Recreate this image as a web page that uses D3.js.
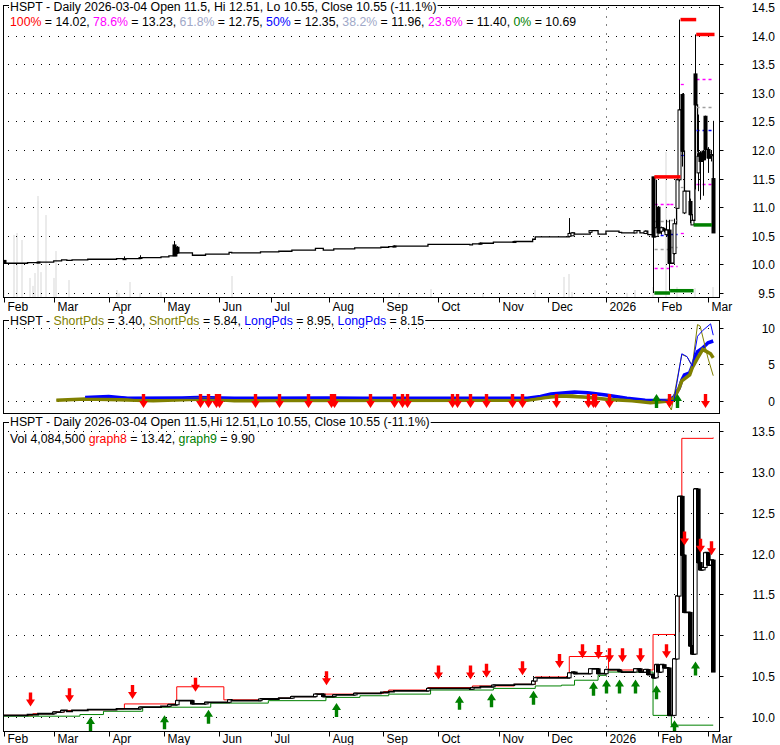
<!DOCTYPE html>
<html><head><meta charset="utf-8">
<script src="https://cdn.jsdelivr.net/npm/d3@7"></script>
<style>
body{margin:0;background:#fff}
svg{display:block}
text{font-family:"Liberation Sans",Arial,sans-serif;font-size:12px}
.ttl{font-size:12.3px}
</style>
</head><body>
<svg id="c" width="780" height="745"></svg>
<script>
// ---------------- DATA ----------------
// market holidays (trading-day axis)
const holidays = ["2025-02-17","2025-04-18","2025-05-26","2025-06-19","2025-07-04","2025-09-01","2025-11-27","2025-12-25","2026-01-01","2026-01-19","2026-02-16"];

// flat-period closes (change points of the step line)
const flatDates = ["2025-02-14","2025-02-27","2025-03-03","2025-03-06","2025-03-10","2025-03-12","2025-03-20","2025-04-04","2025-04-30","2025-05-05","2025-05-16","2025-05-23","2025-06-06","2025-06-09","2025-06-25","2025-07-07","2025-07-14","2025-07-25","2025-07-30","2025-08-05","2025-08-15","2025-08-29","2025-09-04","2025-09-25","2025-10-17","2025-10-20","2025-10-30","2025-11-20","2025-11-21","2025-12-08","2025-12-15","2025-12-18","2025-12-29","2026-01-02","2026-01-09","2026-01-12","2026-01-22","2026-01-27"];
const flatClose = [10.03,10.04,10.06,10.08,10.07,10.08,10.09,10.10,10.13,10.15,10.16,10.18,10.21,10.20,10.22,10.23,10.25,10.28,10.25,10.27,10.29,10.30,10.31,10.35,10.34,10.36,10.39,10.44,10.48,10.48,10.53,10.53,10.53,10.58,10.56,10.55,10.55,10.52];

// candles
const candleDates = ["2025-02-03","2025-02-21","2025-04-09","2025-04-17","2025-05-07","2025-05-08","2025-09-08","2025-10-23","2025-11-11","2025-12-11","2025-12-12","2025-12-23","2026-01-20","2026-01-26","2026-01-29","2026-01-30","2026-02-02","2026-02-03","2026-02-04","2026-02-05","2026-02-06","2026-02-10","2026-02-11","2026-02-12","2026-02-13","2026-02-17","2026-02-19","2026-02-20","2026-02-23","2026-02-24","2026-02-25","2026-02-26","2026-02-27","2026-03-02","2026-03-03","2026-03-04"];
const candleOpen  = [10.07,10.03,10.10,10.11,10.34,10.30,10.31,10.36,10.39,10.49,10.50,10.56,10.55,10.54,11.53,10.49,11.00,10.58,10.62,10.52,10.60,10.19,10.98,11.48,12.97,10.90,11.10,10.69,13.33,11.60,11.95,11.98,12.59,12.01,11.90,11.50];
const candleHigh  = [10.07,10.04,10.14,10.16,10.41,10.32,10.33,10.38,10.40,10.81,10.56,10.60,10.60,10.59,11.53,11.48,11.02,10.66,10.64,10.78,10.78,10.80,11.50,14.28,12.99,11.30,11.15,10.80,14.02,12.62,11.98,12.00,12.60,12.05,12.00,12.51];
const candleLow   = [10.02,10.03,10.10,10.11,10.15,10.18,10.31,10.36,10.39,10.48,10.50,10.56,10.55,10.53, 9.50,10.49,10.55,10.52,10.56,10.50, 9.54,10.17,10.97,11.45,11.71,10.88,10.72,10.69,11.31,11.28,11.13,11.20,11.90,11.60,11.80,10.55];
const candleClose = [10.02,10.04,10.10,10.12,10.15,10.20,10.32,10.37,10.40,10.54,10.55,10.59,10.59,10.58,10.48,10.64,10.55,10.64,10.60,10.60,10.02,10.71,11.48,12.70,11.98,11.28,10.87,10.77,12.79,11.89,11.80,11.83,12.01,11.86,11.92,10.55];

// volume
const volDates = ["2025-02-03","2025-02-07","2025-02-10","2025-02-12","2025-02-18","2025-02-19","2025-02-20","2025-02-21","2025-02-24","2025-02-26","2025-03-03","2025-03-04","2025-03-11","2025-04-04","2025-04-07","2025-04-11","2025-04-17","2025-04-30","2025-06-09","2025-09-10","2025-09-26","2025-10-24","2025-11-21","2025-12-09","2025-12-11","2025-12-12","2026-01-14","2026-01-20","2026-01-29","2026-02-05","2026-02-11","2026-02-23","2026-03-04"];
const volValues = [2.9e6,25.7e6,26.5e6,23.6e6,7.9e6,4.6e6,9.9e6,41.8e6,10.3e6,33.9e6,7.9e6,19.0e6,7.0e6,2.9e6,1.7e6,6.2e6,1.7e6,2.1e6,8.7e6,1.7e6,3.3e6,1.7e6,2.9e6,8.3e6,9.5e6,2.1e6,1.7e6,2.9e6,4.1e6,60e6,4.1e6,3.7e6,4084500];

// Fibonacci levels (legend) and swings
const fibLabels = ["100%","78.6%","61.8%","50%","38.2%","23.6%","0%"];
const fibValues = ["14.02","13.23","12.75","12.35","11.96","11.40","10.69"];
const fibLevelRatios = [0.764, 0.618, 0.5, 0.382, 0.214];
const fibStart = ["2026-01-30","2026-02-09","2026-02-13","2026-02-24"];
const fibEnd   = ["2026-02-06","2026-02-11","2026-02-17","2026-03-04"];
const fibHigh  = [11.53,11.53,14.28,14.02];
const fibLow   = [9.50,9.54,9.54,10.69];
const swingHiStart = ["2026-01-30","2026-02-13","2026-02-24"];
const swingHiEnd   = ["2026-02-12","2026-02-23","2026-03-04"];
const swingHiValue = [11.53,14.28,14.02];
const swingLoStart = ["2026-01-30","2026-02-09","2026-02-23"];
const swingLoEnd   = ["2026-02-06","2026-02-20","2026-03-03"];
const swingLoValue = [9.50,9.54,10.69];

// indicator panel
const longThickDates = ["2025-03-19","2025-04-01","2025-04-10","2025-05-12","2025-05-20","2025-06-10","2025-08-01","2025-08-20","2025-11-18","2025-11-25","2025-12-02","2025-12-13","2025-12-22","2026-01-02","2026-01-14","2026-01-24","2026-02-06","2026-02-10","2026-02-12","2026-02-13","2026-02-17","2026-02-19","2026-02-20","2026-02-23","2026-02-24","2026-02-26","2026-03-02","2026-03-04"];
const longThickValues = [0.40,0.55,0.30,0.35,0.40,0.30,0.35,0.30,0.30,0.55,0.90,1.15,1.05,0.75,0.30,0.05,0.00,0.50,1.70,2.80,3.50,3.80,4.70,5.80,6.70,7.20,7.90,8.15];
const shortThickDates = ["2025-03-04","2025-03-19","2025-04-05","2025-04-25","2025-05-15","2025-05-25","2025-06-10","2025-07-01","2025-11-18","2025-11-28","2025-12-08","2025-12-22","2026-01-05","2026-01-16","2026-01-28","2026-02-05","2026-02-10","2026-02-12","2026-02-13","2026-02-19","2026-02-20","2026-02-24","2026-02-26","2026-02-27","2026-03-03","2026-03-04"];
const shortThickValues = [0.05,0.20,0.10,-0.05,0.15,0.20,-0.05,0.00,0.05,0.40,0.60,0.45,0.15,-0.05,-0.30,-0.10,0.30,1.70,2.70,3.50,4.50,5.80,7.00,6.80,6.40,5.84];
const shortThinDates = ["2025-03-04","2025-03-19","2025-04-05","2025-04-25","2025-05-15","2025-06-10","2025-07-01","2025-11-18","2025-12-01","2025-12-12","2025-12-24","2026-01-10","2026-01-28","2026-02-05","2026-02-09","2026-02-13","2026-02-18","2026-02-20","2026-02-24","2026-02-25","2026-03-02","2026-03-04"];
const shortThinValues = [0.05,0.25,0.05,-0.10,0.25,-0.10,0.00,0.10,0.60,0.80,0.40,0.00,-0.30,0.00,-1.30,6.30,6.00,4.70,10.40,10.20,5.80,3.40];
const longThinDates = ["2025-03-19","2025-04-05","2025-04-15","2025-11-18","2025-12-05","2025-12-15","2026-01-02","2026-01-20","2026-02-10","2026-02-13","2026-02-18","2026-02-20","2026-02-24","2026-02-26","2026-03-03","2026-03-04"];
const longThinValues = [0.45,0.55,0.30,0.30,1.00,1.20,0.80,0.15,0.00,6.40,6.00,4.70,8.80,9.60,10.50,8.95];
const ind2SellDates = ["2025-04-21","2025-05-21","2025-05-24","2025-05-30","2025-06-01","2025-06-22","2025-07-05","2025-07-22","2025-08-02","2025-08-05","2025-08-25","2025-09-08","2025-09-11","2025-09-14","2025-10-08","2025-10-10","2025-10-17","2025-10-25","2025-11-10","2025-11-14","2025-12-04","2025-12-21","2025-12-24","2025-12-26","2026-01-04","2026-02-06","2026-02-27"];
const ind2BuyDates = ["2026-01-30","2026-02-11"];

// lower panel
const graph8Dates = ["2025-02-03","2025-02-19","2025-03-03","2025-03-07","2025-03-20","2025-04-04","2025-04-09","2025-05-08","2025-06-04","2025-06-25","2025-07-07","2025-07-14","2025-07-25","2025-08-15","2025-09-01","2025-09-04","2025-09-25","2025-10-20","2025-11-11","2025-11-21","2025-12-11","2026-01-05","2026-01-29","2026-02-11","2026-02-12","2026-02-13","2026-03-04"];
const graph8Values = [10.02,10.04,10.06,10.08,10.09,10.10,10.16,10.37,10.21,10.22,10.23,10.25,10.28,10.29,10.31,10.33,10.36,10.38,10.40,10.49,10.74,10.575,11.01,11.04,12.27,13.41,13.42];
const graph9Dates = ["2025-02-03","2025-03-17","2025-03-28","2025-04-19","2025-05-28","2025-06-28","2025-07-31","2025-08-19","2025-09-04","2025-09-26","2025-10-30","2025-11-21","2025-12-06","2025-12-14","2025-12-28","2026-01-01","2026-01-29","2026-02-09","2026-03-04"];
const graph9Values = [10.01,10.03,10.07,10.12,10.17,10.20,10.24,10.26,10.28,10.33,10.35,10.38,10.39,10.45,10.51,10.55,10.02,9.90,9.90];
const sellDates = ["2025-02-17","2025-03-11","2025-04-13","2025-05-17","2025-07-31","2025-10-01","2025-10-17","2025-10-26","2025-11-14","2025-12-05","2025-12-18","2025-12-28","2026-01-05","2026-01-12","2026-01-22","2026-02-05","2026-02-17","2026-02-25","2026-03-03"];
const sellLevels = [10.13,10.18,10.22,10.31,10.39,10.46,10.46,10.48,10.51,10.60,10.72,10.71,10.67,10.67,10.67,10.72,12.10,12.01,11.98];
const buyDates = ["2025-03-21","2025-05-01","2025-05-26","2025-08-06","2025-10-12","2025-10-29","2025-11-20","2025-12-24","2026-01-02","2026-01-09","2026-01-20","2026-01-30","2026-02-10","2026-02-23"];
const buyLevels = [10.00,10.02,10.09,10.17,10.26,10.29,10.32,10.43,10.46,10.46,10.46,10.39,9.96,10.68];

const priceTicks1 = [9.5,10,10.5,11,11.5,12,12.5,13,13.5,14,14.5];
const indTicks = [0,5,10];
const priceTicks3 = [10,10.5,11,11.5,12,12.5,13,13.5];

// ---------------- DRAW ----------------
const parse = d3.utcParse("%Y-%m-%d");
const fmtD = d3.utcFormat("%Y-%m-%d");
const svg = d3.select("#c");
const RED="#ff0000", GREEN="#008000", BLUE="#0000ff", OLIVE="#808000", MAG="#ff00ff", GRAYB="#a0a8c8", FIBGRAY="#a0a0a0";

const holidaySet = new Set(holidays);
const tradingDays = d3.utcDay.range(parse("2025-01-31"), parse("2026-03-05"))
  .filter(d=>d.getUTCDay()%6!==0 && !holidaySet.has(fmtD(d)));
const xi = d3.scaleLinear().domain([0, tradingDays.length-1]).range([1.4, 1.4+(tradingDays.length-1)*2.617]);
const X = s => { const d = typeof s==="string"?parse(s):s; return xi(d3.bisectLeft(tradingDays, d)); };

const L = 3.5, R = 719.5;
const P = [{t:5.5,b:297.5},{t:320.5,b:413.5},{t:422.5,b:731.5}];
const y1 = d3.scaleLinear().domain([9.5,14.5]).range([293,7]);
const y2 = d3.scaleLinear().domain([0,10]).range([400.5,327.5]);
const y3 = d3.scaleLinear().domain([10,13.5]).range([717,431]);
const yv = d3.scaleLinear().domain([0,60e6]).range([297,152]);

P.forEach((p,i)=>{
  svg.append("clipPath").attr("id","cp"+i).append("rect")
    .attr("x",L+0.5).attr("y",p.t+0.5).attr("width",R-L-1).attr("height",p.b-p.t-1);
});
const g1 = svg.append("g").attr("clip-path","url(#cp0)");
const g2 = svg.append("g").attr("clip-path","url(#cp1)");
const g3 = svg.append("g").attr("clip-path","url(#cp2)");

const candles = candleDates.map((d,i)=>({d:d,o:candleOpen[i],h:candleHigh[i],l:candleLow[i],c:candleClose[i]}));
const closes = flatDates.map((d,i)=>({d:d,c:flatClose[i]}))
  .concat(candles.map(c=>({d:c.d,c:c.c})))
  .sort((a,b)=>d3.ascending(a.d,b.d));

// volume
g1.selectAll(".vol").data(volDates.map((d,i)=>({d:d,v:volValues[i]}))).join("rect")
  .attr("x",d=>Math.round(X(d.d))-1).attr("width",2).attr("y",d=>yv(d.v)).attr("height",d=>297-yv(d.v))
  .attr("fill","#ebebeb");

// grids
const DASH = "1,7,1,7,1,8";
function hgrid(g, vals, y){
  g.selectAll(null).data(vals).join("line")
    .attr("x1",8).attr("x2",716)
    .attr("y1",d=>Math.round(y(d))+0.5).attr("y2",d=>Math.round(y(d))+0.5)
    .attr("stroke","#000").attr("stroke-dasharray",DASH);
}
hgrid(g1, priceTicks1, y1);
hgrid(g2, indTicks, y2);
hgrid(g3, priceTicks3, y3);
const yr = Math.round(X("2026-01-01"))+0.5;
[[g1,P[0]],[g3,P[2]]].forEach(([g,p])=>{
  g.append("line").attr("x1",yr).attr("x2",yr).attr("y1",p.t+3).attr("y2",p.b)
   .attr("stroke","#000").attr("stroke-dasharray",DASH);
});

// ---- panel 1: price
const step1 = d3.line().x(d=>X(d.d)).y(d=>y1(d.c)).curve(d3.curveStepAfter);
g1.append("path").datum(closes).attr("d",step1).attr("fill","none").attr("stroke","#000").attr("stroke-width",1.3);

// fib dashed levels
const dashColors = [MAG,FIBGRAY,BLUE,FIBGRAY,MAG];
fibStart.forEach((s,k)=>{
  fibLevelRatios.forEach((r,j)=>{
    const v = fibLow[k] + r*(fibHigh[k]-fibLow[k]);
    g1.append("line").attr("x1",X(s)-1).attr("x2",X(fibEnd[k])+1)
      .attr("y1",Math.round(y1(v))+0.5).attr("y2",Math.round(y1(v))+0.5).attr("stroke",dashColors[j])
      .attr("stroke-width",1.3).attr("stroke-dasharray","3,3");
  });
});

// candles
g1.selectAll(".wick").data(candles).join("line")
  .attr("x1",d=>Math.round(X(d.d))+0.5).attr("x2",d=>Math.round(X(d.d))+0.5)
  .attr("y1",d=>y1(d.h)).attr("y2",d=>y1(d.l)).attr("stroke","#000");
g1.selectAll(".body").data(candles).join("rect")
  .attr("x",d=>Math.round(X(d.d))-1).attr("width",3)
  .attr("y",d=>y1(Math.max(d.o,d.c))).attr("height",d=>Math.max(1,Math.abs(y1(d.o)-y1(d.c))))
  .attr("fill",d=>d.c>=d.o?"#fff":"#000").attr("stroke","#000").attr("stroke-width",1);

// swing high/low bars
swingHiStart.forEach((s,k)=>{
  g1.append("line").attr("x1",X(s)-1.3).attr("x2",X(swingHiEnd[k])+1.3)
    .attr("y1",y1(swingHiValue[k])).attr("y2",y1(swingHiValue[k])).attr("stroke",RED).attr("stroke-width",3.5);
});
swingLoStart.forEach((s,k)=>{
  g1.append("line").attr("x1",X(s)-1.3).attr("x2",X(swingLoEnd[k])+1.3)
    .attr("y1",y1(swingLoValue[k])).attr("y2",y1(swingLoValue[k])).attr("stroke",GREEN).attr("stroke-width",3.5);
});

// ---- panel 2: indicator
function ser(ds,vs){return ds.map((d,i)=>({d:d,v:vs[i]}));}
const line2 = d3.line().x(d=>X(d.d)).y(d=>y2(d.v));
g2.append("path").datum(ser(longThickDates,longThickValues)).attr("d",line2).attr("fill","none").attr("stroke",BLUE).attr("stroke-width",3.5);
g2.append("path").datum(ser(shortThickDates,shortThickValues)).attr("d",line2).attr("fill","none").attr("stroke",OLIVE).attr("stroke-width",3.5);
g2.append("path").datum(ser(shortThinDates,shortThinValues)).attr("d",line2).attr("fill","none").attr("stroke",OLIVE).attr("stroke-width",1);
g2.append("path").datum(ser(longThinDates,longThinValues)).attr("d",line2).attr("fill","none").attr("stroke",BLUE).attr("stroke-width",1);

function arrow(g, xx, yTip, dir, color){
  const A = Math.round(xx)+0.5, s=dir;
  const p = `M${A-1.7},${yTip-s*14} L${A+1.7},${yTip-s*14} L${A+1.7},${yTip-s*7} L${A+4.5},${yTip-s*7} L${A},${yTip} L${A-4.5},${yTip-s*7} L${A-1.7},${yTip-s*7} Z`;
  g.append("path").attr("d",p).attr("fill",color);
}
ind2SellDates.forEach(d=>arrow(g2, X(d), y2(-1.03), 1, RED));
ind2BuyDates.forEach(d=>arrow(g2, X(d), y2(0.88), -1, GREEN));

// ---- panel 3
const step3 = d3.line().x(d=>X(d.d)).y(d=>y3(d.c)).curve(d3.curveStepAfter);
g3.append("path").datum(ser(graph8Dates,graph8Values).map(d=>({d:d.d,c:d.v}))).attr("d",step3).attr("fill","none").attr("stroke",RED).attr("stroke-width",1);
g3.append("path").datum(ser(graph9Dates,graph9Values).map(d=>({d:d.d,c:d.v}))).attr("d",step3).attr("fill","none").attr("stroke",GREEN).attr("stroke-width",1);
g3.append("path").datum(closes).attr("d",step3).attr("fill","none").attr("stroke","#000").attr("stroke-width",1.8);
const boxes = closes.slice(1).map((c,i)=>({d:c.d,p:closes[i].c,c:c.c}));
g3.selectAll(".box").data(boxes.filter(b=>Math.abs(b.c-b.p)>0.015)).join("rect")
  .attr("x",d=>Math.round(X(d.d))-1.5).attr("width",3.6)
  .attr("y",d=>y3(Math.max(d.p,d.c))).attr("height",d=>Math.abs(y3(d.p)-y3(d.c)))
  .attr("fill",d=>d.c>=d.p?"#fff":"#000").attr("stroke","#000").attr("stroke-width",1);
sellDates.forEach((d,i)=>arrow(g3, X(d), y3(sellLevels[i]), 1, RED));
buyDates.forEach((d,i)=>arrow(g3, X(d), y3(buyLevels[i]), -1, GREEN));

// ---- frames, axes
P.forEach(p=>{
  svg.append("rect").attr("x",L).attr("y",p.t).attr("width",R-L).attr("height",p.b-p.t)
    .attr("fill","none").attr("stroke","#000").attr("stroke-width",1);
});
function rightAxis(vals, y, fmt){
  vals.forEach(v=>{
    const yy = Math.round(y(v))+0.5;
    svg.append("line").attr("x1",R).attr("x2",R+4).attr("y1",yy).attr("y2",yy).attr("stroke","#000");
    svg.append("text").attr("x",775).attr("y",yy).attr("dy","0.35em").attr("text-anchor","end").text(fmt(v));
  });
}
rightAxis(priceTicks1, y1, d3.format(".1f"));
rightAxis(indTicks, y2, d3.format("d"));
rightAxis(priceTicks3, y3, d3.format(".1f"));

const months = d3.utcMonth.range(parse("2025-02-01"), parse("2026-03-02"));
const mfmt = d=> d.getUTCMonth()===0 ? d3.utcFormat("%Y")(d) : d3.utcFormat("%b")(d);
[[P[0].b,310.5],[P[2].b,742.5]].forEach(([yb,ty])=>{
  months.forEach(m=>{
    const xx = Math.round(X(m))+0.5;
    svg.append("line").attr("x1",xx).attr("x2",xx).attr("y1",yb).attr("y2",yb+5).attr("stroke","#000");
    svg.append("text").attr("x",xx+3).attr("y",ty).text(mfmt(m));
  });
});

// ---- titles
function title(xx, yy, parts, bg){
  const t = svg.append("text").attr("class","ttl").attr("x",xx).attr("y",yy);
  parts.forEach(([s,c])=>t.append("tspan").attr("fill",c).attr("xml:space","preserve").text(s));
  if(bg){
    const b = t.node().getBBox();
    svg.insert("rect", function(){return t.node();}).attr("x",b.x-1).attr("y",b.y+1).attr("width",b.width+2).attr("height",b.height-2).attr("fill","#fff");
  }
  return t;
}
title(10, 10.5, [["HSPT - Daily 2026-03-04 Open 11.5, Hi 12.51, Lo 10.55, Close 10.55 (-11.1%)","#000"]], true);
const fibColors = [RED,MAG,GRAYB,BLUE,GRAYB,MAG,GREEN];
const fibParts = [];
fibLabels.forEach((lab,j)=>{
  fibParts.push([lab, fibColors[j]]);
  fibParts.push([" = "+fibValues[j]+(j<fibLabels.length-1?", ":""), "#000"]);
});
title(10, 26, fibParts, false);
title(10, 325, [["HSPT - ","#000"],["ShortPds",OLIVE],[" = 3.40, ","#000"],["ShortPds",OLIVE],[" = 5.84, ","#000"],["LongPds",BLUE],[" = 8.95, ","#000"],["LongPds",BLUE],[" = 8.15","#000"]], true);
title(10, 426, [["HSPT - Daily 2026-03-04 Open 11.5,Hi 12.51,Lo 10.55, Close 10.55 (-11.1%)","#000"]], true);
title(10, 442.5, [["Vol 4,084,500 ","#000"],["graph8",RED],[" = 13.42, ","#000"],["graph9",GREEN],[" = 9.90","#000"]], false);
</script>
</body></html>
